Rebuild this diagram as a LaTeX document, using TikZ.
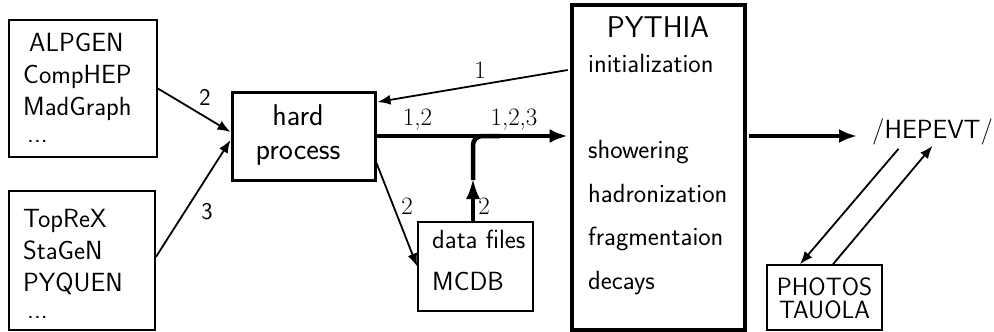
\documentclass[tikz,border=0pt]{standalone}
\usetikzlibrary{arrows.meta}
\begin{document}
\begin{tikzpicture}[x=1pt,y=-1pt,
  box/.style={draw, line width=1.8pt, inner sep=0pt},
  txt/.style={inner sep=0pt, font=\fontsize{26.3}{32}\selectfont\sffamily, align=left},
  big/.style={inner sep=0pt, font=\fontsize{30}{34}\selectfont\sffamily, align=center},
  lab/.style={inner sep=0pt, font=\fontsize{25}{28}\selectfont},
  slab/.style={inner sep=0pt, font=\fontsize{24}{28}\selectfont\sffamily},
  arr/.style={line width=1.8pt, -{Latex[length=13pt,width=10pt]}},
  bigarr/.style={line width=4.5pt, -{Latex[length=18pt,width=14pt]}}]
\useasboundingbox (0,0) rectangle (994,332);

% boxes
\node[box, minimum width=148pt, minimum height=137pt] (gen1) at (83,88.5) {};
\node[txt, anchor=north west] (gen1t) at (23,33) {\hspace*{6pt}ALPGEN\\CompHEP\\MadGraph\\[-5pt]\hspace*{4pt}...};
\node[box, minimum width=146pt, minimum height=139pt] (gen2) at (82,260.5) {};
\node[txt, anchor=north west] (gen2t) at (23,209) {TopReX\\StaGeN\\PYQUEN\\[-5pt]\hspace*{4pt}...};

\node[box, line width=3pt, minimum width=143pt, minimum height=88pt] (hard) at (303.5,136) {};
\node[big, anchor=north] (hardt) at (298,104) {hard\\process};

\node[box, line width=4.5pt, minimum width=173pt, minimum height=325pt] (pythia) at (658.5,167.5) {};
\node[big, anchor=base] (pytitle) at (658,37) {PYTHIA};
\node[txt, anchor=base west] (pyinit) at (588,72) {initialization};
\node[txt, anchor=north west, font=\fontsize{26.3}{43.5}\selectfont\sffamily] (pysteps) at (588,140.5) {showering\\hadronization\\fragmentaion\\decays};

\node[box, line width=1.6pt, minimum width=115pt, minimum height=89pt] (df) at (475.5,266.5) {};
\node[txt, anchor=north west, font=\fontsize{26.3}{42}\selectfont\sffamily] (dft) at (432,229.5) {data files\\MCDB};

\node[txt, anchor=base west, inner xsep=15pt, inner ysep=4pt] (hepevt) at (857,138) {/HEPEVT/};

\node[box, line width=1.5pt, minimum width=115pt, minimum height=65pt] (photos) at (824.5,297.5) {};
\node[txt, anchor=north, align=center, font=\fontsize{25}{23}\selectfont\sffamily] (photost) at (824.5,277.5) {PHOTOS\\TAUOLA};

% connectors
\draw[arr] (gen1.east) -- ([yshift=4pt]hard.west);
\node[slab] (l2a) at (205,97) {2};
\draw[arr] ([yshift=3.5pt]gen2.east) -- ([yshift=-4pt]hard.west);
\node[slab] (l3) at (207,212) {3};

\draw[arr] ([yshift=97.5pt,xshift=-2pt]pythia.west) -- ([yshift=34pt,xshift=1pt]hard.east);
\node[lab] (l1) at (480,70) {1};

\draw[bigarr] (hard.east) -- ([xshift=-2.2pt]pythia.west |- hard.east);
\node[lab, anchor=base] (l12) at (417.5,125) {1,2};
\node[lab, anchor=base] (l123) at (514,125) {1,2,3};

\draw[arr] ([yshift=-27pt]hard.east) -- (df.west);
\node[lab] (l2b) at (407,206) {2};

\coordinate (mid) at (473,178);
\coordinate (join) at (500,136);
\draw[line width=4.5pt, -{Latex[length=21pt,width=14pt]}] ([xshift=-2.5pt]df.north) -- (mid);
\draw[line width=4.5pt, rounded corners=9pt] ([yshift=-2pt]mid) |- (join);
\node[lab] (l2c) at (484,206) {2};

\draw[bigarr] ([xshift=2.2pt]pythia.east |- hard.east) -- (hepevt.west |- hard.east);

\draw[arr] ([xshift=-34pt]hepevt.south) -- ([xshift=-24.5pt]photos.north);
\draw[arr] ([xshift=8.5pt]photos.north) -- ([xshift=0pt,yshift=3pt]hepevt.south);
\end{tikzpicture}
\end{document}
